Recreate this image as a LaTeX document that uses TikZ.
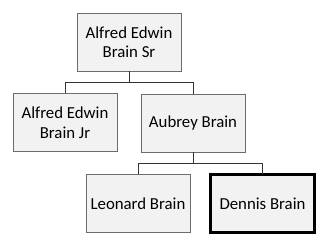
\documentclass[tikz,border=0pt]{standalone}
\usepackage{fontspec}
\setmainfont{Carlito}
\usetikzlibrary{positioning}

\begin{document}
\begin{tikzpicture}[
    x=1pt, y=1pt,
    person/.style={rectangle, draw=gray!85!black, fill=gray!10, line width=0.9pt, minimum width=104pt, minimum height=58pt, outer sep=0pt, align=center, font=\fontsize{16.8}{19.5}\selectfont},
    focus/.style={person, draw=black, line width=2.2pt},
    link/.style={draw=black!80, line width=0.7pt}
]
    \useasboundingbox (0,0) rectangle (330,252);
    \node[person] (sr) at (129,210) {Alfred Edwin\\Brain Sr};
    \node[person] (jr) at (65,129.5) {Alfred Edwin\\Brain Jr};
    \node[person] (aubrey) at (193,129) {Aubrey Brain};
    \node[person] (leonard) at (138,48.5) {Leonard Brain};
    \node[focus] (dennis) at (262.5,48.5) {Dennis Brain};

    \draw[link] (sr.south) -- ++(0,-11) -| (jr.north);
    \draw[link] (sr.south) -- ++(0,-11) -| (aubrey.north);
    \draw[link] (aubrey.south) -- ++(0,-11) -| (leonard.north);
    \draw[link] (aubrey.south) -- ++(0,-11) -| (dennis.north);
\end{tikzpicture}
\end{document}
